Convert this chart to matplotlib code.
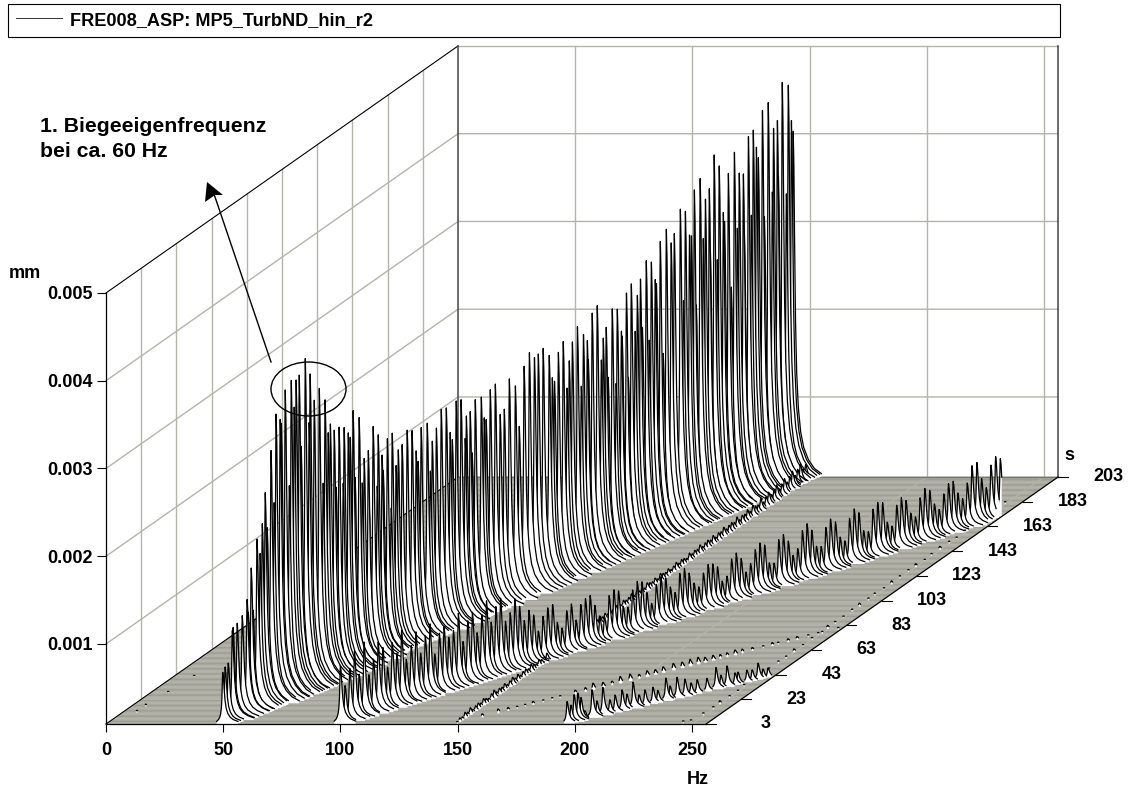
"""
Waterfall spectrum of the run-up, FRE008_ASP MP5 TurbND
"""
import matplotlib
matplotlib.use('Agg')
import matplotlib.pyplot as plt
from matplotlib.lines import Line2D
from matplotlib.patches import Ellipse
import numpy as np

# first order ridge, one entry per peak: time in s, frequency in Hz, height over floor in 0.001 mm
r1_time = [3.0, 3.7, 4.8, 6.2, 6.5, 7.9, 8.3, 9.7, 11.4, 11.8,
           12.8, 13.5, 14.9, 16.0, 16.7, 17.7, 18.4, 19.8, 20.9, 21.6,
           23.0, 23.4, 24.8, 26.2, 26.9, 27.9, 28.6, 29.7, 30.4, 31.8,
           33.2, 33.5, 34.9, 36.7, 38.1, 38.8, 39.9, 40.6, 42.0, 42.7,
           43.7, 45.1, 45.5, 46.9, 47.6, 48.6, 49.3, 50.7, 51.8, 52.5,
           53.9, 54.2, 55.6, 57.1, 57.4, 58.8, 59.2, 60.6, 62.0, 62.3,
           63.7, 64.4, 65.8, 67.6, 69.3, 70.7, 71.4, 72.5, 74.6, 75.7,
           76.4, 77.8, 79.5, 81.3, 82.7, 83.4, 84.8, 86.5, 87.9, 88.3,
           89.7, 90.4, 91.5, 93.6, 94.6, 95.3, 96.7, 98.5, 100.2, 101.6,
           103.4, 105.5, 106.9, 108.6, 110.4, 112.2, 113.6, 115.3, 117.4, 118.5,
           119.2, 120.6, 122.3, 123.7, 124.4, 125.5, 127.3, 128.7, 129.4, 130.8,
           131.1, 132.5, 134.3, 135.7, 136.4, 137.4, 138.1, 139.5, 140.9, 141.3,
           142.7, 143.0, 144.5, 145.2, 146.2, 147.6, 148.3, 149.4, 150.1, 151.5,
           152.5, 153.2, 154.6, 155.0, 156.4, 157.4, 158.5, 160.2, 161.3, 163.4,
           164.5, 165.2, 166.6, 167.3, 168.3, 169.0, 170.4, 171.5, 172.2, 173.6,
           173.9, 175.3, 176.4, 177.1, 178.5, 178.9, 180.3, 181.3, 182.4, 183.4,
           184.1, 185.5, 185.9, 187.3, 188.3, 189.0, 190.1, 190.8, 192.2, 192.9,
           194.3, 195.7, 196.1, 197.5, 197.8, 199.2, 200.6, 201.3, 202.4, 203.0]
r1_hz = [49.8, 50.3, 50.8, 51.5, 51.6, 52.3, 52.4, 53.1, 53.9, 54.1,
         54.6, 54.9, 55.5, 56.0, 56.4, 56.9, 57.2, 57.8, 58.3, 58.6,
         59.3, 59.5, 60.1, 60.8, 61.1, 61.6, 61.9, 62.4, 62.7, 63.4,
         64.0, 64.2, 64.9, 65.7, 66.3, 66.6, 67.1, 67.5, 68.1, 68.4,
         68.9, 69.6, 69.7, 70.4, 70.7, 71.2, 71.5, 72.2, 72.7, 73.0,
         73.7, 73.8, 74.5, 75.1, 75.3, 75.9, 76.1, 76.8, 77.4, 77.6,
         78.2, 78.6, 79.2, 80.0, 80.8, 81.5, 81.8, 82.3, 83.3, 83.8,
         84.1, 84.8, 85.6, 86.4, 87.0, 87.4, 88.0, 88.8, 89.5, 89.7,
         90.3, 90.6, 91.1, 92.1, 92.6, 92.9, 93.6, 94.4, 95.2, 95.9,
         96.7, 97.7, 98.3, 99.1, 100.0, 100.8, 101.4, 102.2, 103.2, 103.7,
         104.1, 104.7, 105.5, 106.1, 106.5, 107.0, 107.8, 108.4, 108.8, 109.4,
         109.6, 110.2, 111.0, 111.7, 112.0, 112.5, 112.8, 113.5, 114.1, 114.3,
         115.0, 115.1, 115.8, 116.1, 116.6, 117.2, 117.6, 118.1, 118.4, 119.0,
         119.5, 119.9, 120.5, 120.7, 121.3, 121.8, 122.3, 123.1, 123.6, 124.6,
         125.1, 125.4, 126.1, 126.4, 126.9, 127.2, 127.8, 128.3, 128.7, 129.3,
         129.5, 130.1, 130.6, 130.9, 131.6, 131.8, 132.4, 132.9, 133.4, 133.9,
         134.2, 134.9, 135.0, 135.7, 136.2, 136.5, 137.0, 137.3, 138.0, 138.3,
         138.9, 139.6, 139.8, 140.4, 140.6, 141.2, 141.9, 142.2, 142.7, 143.0]
r1_amp = [0.59, 0.64, 0.67, 1.02, 1.05, 1.08, 0.68, 1.14, 1.30, 1.15,
          1.64, 1.15, 1.94, 1.76, 2.09, 2.43, 2.02, 2.88, 2.27, 3.27,
          3.19, 3.14, 3.50, 2.39, 3.58, 3.26, 3.56, 3.60, 2.78, 3.76,
          3.01, 3.56, 3.24, 3.35, 2.25, 3.19, 2.80, 2.89, 2.80, 2.14,
          2.81, 2.15, 2.78, 2.70, 2.64, 2.93, 2.16, 2.82, 2.06, 2.33,
          2.40, 1.80, 2.65, 1.95, 2.53, 2.28, 2.10, 2.44, 1.63, 2.48,
          2.09, 2.26, 2.30, 2.44, 2.41, 2.16, 2.03, 2.40, 2.42, 1.86,
          2.19, 2.32, 2.51, 2.50, 2.20, 2.11, 2.53, 2.52, 2.06, 2.31,
          2.34, 1.86, 2.45, 2.45, 2.20, 2.17, 2.49, 2.53, 2.16, 2.20,
          2.52, 2.41, 1.93, 2.59, 2.72, 2.64, 2.66, 2.70, 2.59, 2.32,
          2.27, 2.58, 2.68, 2.13, 2.43, 2.63, 2.78, 2.08, 2.66, 2.57,
          2.35, 2.86, 2.92, 2.28, 2.52, 2.63, 2.05, 2.81, 1.94, 2.78,
          2.51, 2.45, 2.92, 1.95, 3.00, 2.44, 2.84, 3.01, 2.45, 3.19,
          2.27, 3.15, 2.93, 2.88, 3.34, 2.05, 3.45, 3.27, 3.36, 3.61,
          2.55, 3.56, 3.27, 3.25, 3.76, 2.44, 3.86, 3.16, 3.60, 3.70,
          3.00, 4.06, 2.85, 3.91, 3.36, 3.25, 3.78, 2.47, 3.99, 3.11,
          3.73, 3.70, 3.03, 4.10, 3.19, 4.15, 3.94, 3.81, 4.33, 3.11,
          4.39, 3.35, 4.07, 4.14, 3.50, 4.55, 3.26, 4.49, 4.07, 3.94]

# second order ridge, leaves the frequency range near 172 s
r2_time = [3.0, 4.2, 5.4, 6.6, 7.8, 9.0, 10.2, 11.4, 12.6, 13.8,
           15.0, 16.2, 17.4, 18.6, 19.8, 21.0, 22.2, 23.4, 24.6, 25.8,
           27.0, 28.2, 29.4, 30.6, 31.8, 33.0, 34.2, 35.4, 36.6, 37.8,
           39.0, 40.2, 41.4, 42.6, 43.8, 45.0, 46.2, 47.4, 48.6, 49.8,
           51.0, 52.2, 53.4, 54.6, 55.8, 57.0, 58.2, 59.4, 60.6, 61.8,
           63.0, 64.2, 65.4, 66.6, 67.8, 69.0, 70.2, 71.4, 72.6, 73.8,
           75.0, 76.2, 77.4, 78.6, 79.8, 81.0, 82.2, 83.4, 84.6, 85.8,
           87.0, 88.2, 89.4, 90.6, 91.8, 93.0, 94.2, 95.4, 96.6, 97.8,
           99.0, 100.2, 101.4, 102.6, 103.8, 105.0, 106.2, 107.4, 108.6, 109.8,
           111.0, 112.2, 113.4, 114.6, 115.8, 117.0, 118.2, 119.4, 120.6, 121.8,
           123.0, 124.2, 125.4, 126.6, 127.8, 129.0, 130.2, 131.4, 132.6, 133.8,
           135.0, 136.2, 137.4, 138.6, 139.8, 141.0, 142.2, 143.4, 144.6, 145.8,
           147.0, 148.2, 149.4, 150.6, 151.8, 153.0, 154.2, 155.4, 156.6, 157.8,
           159.0, 160.2, 161.4, 162.6, 163.8, 165.0, 166.2, 167.4, 168.6, 169.8,
           171.0]
r2_hz = [100.0, 101.1, 102.2, 103.3, 104.4, 105.6, 106.7, 107.8, 108.9, 110.0,
         111.1, 112.2, 113.3, 114.4, 115.5, 116.7, 117.8, 118.9, 120.0, 121.1,
         122.2, 123.3, 124.4, 125.5, 126.6, 127.8, 128.9, 130.0, 131.1, 132.2,
         133.3, 134.4, 135.5, 136.6, 137.7, 138.9, 140.0, 141.1, 142.2, 143.3,
         144.4, 145.5, 146.6, 147.7, 148.8, 150.0, 151.1, 152.2, 153.3, 154.4,
         155.5, 156.6, 157.7, 158.8, 159.9, 161.1, 162.2, 163.3, 164.4, 165.5,
         166.6, 167.7, 168.8, 169.9, 171.0, 172.2, 173.3, 174.4, 175.5, 176.6,
         177.7, 178.8, 179.9, 181.0, 182.1, 183.3, 184.4, 185.5, 186.6, 187.7,
         188.8, 189.9, 191.0, 192.1, 193.2, 194.4, 195.5, 196.6, 197.7, 198.8,
         199.9, 201.0, 202.1, 203.2, 204.3, 205.5, 206.6, 207.7, 208.8, 209.9,
         211.0, 212.1, 213.2, 214.3, 215.4, 216.6, 217.7, 218.8, 219.9, 221.0,
         222.1, 223.2, 224.3, 225.4, 226.5, 227.7, 228.8, 229.9, 231.0, 232.1,
         233.2, 234.3, 235.4, 236.5, 237.6, 238.8, 239.9, 241.0, 242.1, 243.2,
         244.3, 245.4, 246.5, 247.6, 248.7, 249.9, 251.0, 252.1, 253.2, 254.3,
         255.4]
r2_amp = [0.67, 0.42, 0.60, 0.78, 0.50, 0.85, 0.46, 0.62, 0.80, 0.72,
          0.48, 0.74, 0.60, 0.85, 0.50, 0.64, 0.78, 0.52, 0.70, 0.82,
          0.46, 0.68, 0.74, 0.60, 0.66, 0.84, 0.50, 0.72, 0.80, 0.55,
          0.74, 0.88, 0.62, 0.78, 0.86, 0.58, 0.66, 0.80, 0.70, 0.52,
          0.62, 0.55, 0.35, 0.50, 0.58, 0.60, 0.38, 0.30, 0.48, 0.54,
          0.34, 0.50, 0.55, 0.57, 0.44, 0.30, 0.28, 0.50, 0.55, 0.52,
          0.33, 0.30, 0.48, 0.56, 0.54, 0.40, 0.26, 0.46, 0.53, 0.50,
          0.38, 0.30, 0.50, 0.54, 0.47, 0.34, 0.28, 0.42, 0.50, 0.49,
          0.44, 0.26, 0.30, 0.48, 0.53, 0.45, 0.28, 0.36, 0.50, 0.56,
          0.52, 0.30, 0.28, 0.53, 0.57, 0.48, 0.30, 0.36, 0.55, 0.61,
          0.52, 0.32, 0.30, 0.50, 0.58, 0.53, 0.34, 0.28, 0.52, 0.61,
          0.55, 0.33, 0.30, 0.54, 0.60, 0.58, 0.34, 0.28, 0.50, 0.57,
          0.52, 0.36, 0.30, 0.50, 0.59, 0.55, 0.38, 0.30, 0.46, 0.56,
          0.57, 0.42, 0.34, 0.50, 0.68, 0.70, 0.50, 0.38, 0.62, 0.70,
          0.66]

# fourth order ridge
r4_time = [3.4, 4.1, 4.7, 5.4, 6.0, 6.7, 8.0, 8.9, 10.0, 11.3,
           12.3, 13.6, 14.5, 15.6, 16.7, 17.8, 19.3, 20.2, 21.7, 22.5,
           23.8, 25.2, 26.4, 27.5, 29.3, 31.0, 31.9, 33.0, 34.5, 35.1,
           36.7, 37.7, 38.8, 39.7, 40.6]
r4_hz = [196.4, 197.5, 198.4, 199.5, 200.4, 201.5, 203.6, 205.0, 206.7, 208.7,
         210.2, 212.2, 213.6, 215.4, 217.1, 218.8, 221.1, 222.5, 224.8, 226.0,
         228.0, 230.3, 232.0, 233.8, 236.6, 239.2, 240.6, 242.4, 244.7, 245.5,
         248.1, 249.6, 251.3, 252.7, 254.2]
r4_amp = [0.25, 0.20, 0.31, 0.32, 0.26, 0.10, 0.32, 0.18, 0.32, 0.16,
          0.20, 0.24, 0.18, 0.30, 0.14, 0.18, 0.19, 0.14, 0.26, 0.16,
          0.24, 0.20, 0.14, 0.16, 0.15, 0.25, 0.15, 0.24, 0.14, 0.14,
          0.14, 0.13, 0.19, 0.11, 0.11]

# third order ridge, only small specks
r3_time = [8.4, 11.6, 13.5, 15.3, 16.9, 18.5, 20.5, 22.3, 23.9, 26.9,
           28.9, 30.4, 32.4, 34.2, 35.8, 37.8, 39.6, 41.2, 42.8, 44.4,
           46.4, 48.2, 49.7, 51.3, 52.7, 54.3, 55.7, 57.1, 58.7, 60.1,
           62.1, 64.3, 66.1, 67.2, 69.2, 71.0, 73.2, 76.0, 79.2]
r3_hz = [156.4, 160.8, 163.6, 166.1, 168.3, 170.5, 173.3, 175.8, 178.0, 182.2,
         185.0, 187.2, 189.9, 192.4, 194.7, 197.4, 199.9, 202.1, 204.4, 206.6,
         209.4, 211.8, 214.1, 216.3, 218.2, 220.4, 222.4, 224.3, 226.5, 228.5,
         231.3, 234.3, 236.8, 238.5, 241.2, 243.7, 246.8, 250.7, 255.1]
r3_amp = [0.04, 0.05, 0.04, 0.03, 0.03, 0.04, 0.03, 0.03, 0.03, 0.05,
          0.05, 0.08, 0.06, 0.05, 0.08, 0.08, 0.05, 0.07, 0.06, 0.07,
          0.08, 0.07, 0.08, 0.08, 0.06, 0.06, 0.05, 0.05, 0.06, 0.05,
          0.04, 0.03, 0.04, 0.03, 0.04, 0.04, 0.03, 0.03, 0.03]

# constant line at 150 Hz, one value every 1.5 s from 3 s on
line150_hz = 149.8
line150_amp = [0.03, 0.05, 0.04, 0.07, 0.05, 0.08, 0.04, 0.06, 0.07, 0.05,
               0.08, 0.06, 0.04, 0.07, 0.09, 0.05, 0.07, 0.06, 0.08, 0.05,
               0.07, 0.09, 0.06, 0.08, 0.05, 0.07, 0.08, 0.06, 0.09, 0.07,
               0.05, 0.08, 0.06, 0.07, 0.09, 0.05, 0.07, 0.08, 0.06, 0.05,
               0.07, 0.08, 0.06, 0.05, 0.08, 0.06, 0.07, 0.09, 0.05, 0.07,
               0.06, 0.08, 0.05, 0.07, 0.09, 0.06, 0.08, 0.05, 0.07, 0.06,
               0.09, 0.07, 0.05, 0.08, 0.06, 0.07, 0.09, 0.05, 0.08, 0.06,
               0.07, 0.05, 0.09, 0.07, 0.06, 0.08, 0.05, 0.09, 0.07, 0.06,
               0.08, 0.05, 0.07, 0.09, 0.06, 0.08, 0.07, 0.05, 0.09, 0.06,
               0.08, 0.07, 0.10, 0.06, 0.08, 0.09, 0.07, 0.10, 0.06, 0.09,
               0.08, 0.11, 0.07, 0.09, 0.10, 0.08, 0.12, 0.07, 0.10, 0.09,
               0.12, 0.08, 0.13, 0.10, 0.09, 0.14, 0.08, 0.12, 0.15, 0.10,
               0.13, 0.17, 0.10, 0.14, 0.18, 0.12, 0.16, 0.20, 0.13, 0.18,
               0.22, 0.14, 0.17, 0.12]

# sparse specks near 250 Hz
line250_time = [3.5, 5.0, 10.0, 15.0, 19.0, 24.0, 29.0, 33.0, 38.0, 43.0,
                47.0, 52.0, 56.0, 61.0, 66.0, 71.0, 75.0, 80.0, 84.0, 89.0,
                94.0, 98.0, 103.0, 107.0, 112.0, 116.0, 121.0, 126.0, 130.0, 135.0,
                139.0, 144.0, 149.0, 153.0, 158.0, 163.0, 167.0, 172.0, 177.0, 181.0]
line250_hz = [245.8, 248.0, 249.5, 250.0, 249.8, 250.2, 250.0, 249.6, 250.1, 250.0,
              249.8, 250.0, 250.3, 249.9, 250.0, 250.1, 249.7, 250.0, 250.2, 250.0,
              249.9, 250.0, 250.1, 249.8, 250.0, 250.2, 250.0, 249.9, 250.0, 250.1,
              250.0, 249.8, 250.0, 250.2, 250.0, 249.9, 250.0, 250.1, 250.0, 249.9]
line250_amp = [0.03, 0.02, 0.03, 0.03, 0.04, 0.03, 0.02, 0.03, 0.04, 0.03,
               0.02, 0.03, 0.03, 0.04, 0.02, 0.03, 0.03, 0.04, 0.03, 0.02,
               0.03, 0.04, 0.03, 0.03, 0.02, 0.04, 0.03, 0.03, 0.04, 0.02,
               0.03, 0.04, 0.03, 0.02, 0.03, 0.03, 0.04, 0.03, 0.02, 0.03]

# specks close to 0 Hz
low_time = [12.0, 17.0, 28.0, 41.0]
low_hz = [6.4, 6.4, 7.7, 9.0]
low_amp = [0.03, 0.03, 0.02, 0.02]

# peak shape read from the skirts: distance from the peak in Hz, fraction of peak height
skirt_hz = [0, 0.3, 0.6, 1.0, 1.5, 2.2, 3.2, 4.5, 6.5, 9.0, 12.0]
skirt_frac = [1, 0.90, 0.68, 0.45, 0.30, 0.20, 0.13, 0.085, 0.05, 0.025, 0.01]

hz_ticks = [0, 50, 100, 150, 200, 250]
mm_ticks = [0.001, 0.002, 0.003, 0.004, 0.005]
s_ticks = [3, 23, 43, 63, 83, 103, 123, 143, 163, 183, 203]

assert len(r1_time) == len(r1_hz) == len(r1_amp)
assert len(r2_time) == len(r2_hz) == len(r2_amp)
assert len(r3_time) == len(r3_hz) == len(r3_amp)
assert len(r4_time) == len(r4_hz) == len(r4_amp)

# plot geometry
PX_PER_HZ = 2.344
PX_PER_MM = 87750.0
HZ_MAX = 256.0
FLOOR = 0.000088
TOP = 0.005
SHIFT_HZ = 1.76 / PX_PER_HZ      # oblique shift per second
SHIFT_MM = 1.235 / PX_PER_MM
TAIL_CUT = 0.025                 # skirts end at this height, 0.001 mm
LEFT_SKIRT = 0.4                 # skirts are narrower on the low frequency side

GRID = '#b4b4aa'
FLOOR_BG = '#d4d4ca'
FLOOR_ROW = '#97978d'
BOLD = dict(fontsize=13, fontweight='bold')

plt.rcParams['font.family'] = ['Liberation Sans', 'DejaVu Sans']


def hz_of(px):
    return (px - 106) / PX_PER_HZ


def mm_of(py):
    return FLOOR + (724 - py) / PX_PER_MM


def project(hz, t, mm):
    hz, t, mm = np.broadcast_arrays(hz, t, mm)
    return hz + (t - 3) * SHIFT_HZ, mm + (t - 3) * SHIFT_MM


fig = plt.figure(figsize=(11.29, 7.87), dpi=100)
ax = fig.add_axes([0, 0, 1, 1])
ax.set_xlim(hz_of(0), hz_of(1129))
ax.set_ylim(mm_of(787), mm_of(0))
ax.patch.set_alpha(0)

# floor, the rows are not snapped so that they beat against the pixel grid
fx, fy = project(np.array([0, HZ_MAX, HZ_MAX, 0]), np.array([3, 3, 203, 203]), FLOOR)
ax.fill(fx, fy, color=FLOOR_BG, lw=0, zorder=1)
for t in np.arange(3, 203.5, 1):
    x, y = project(np.array([0, HZ_MAX]), t, FLOOR)
    ax.plot(x, y, color=FLOOR_ROW, lw=0.62, zorder=1.1, snap=False, solid_capstyle='butt')

# grid on floor and walls
for hz in hz_ticks[1:]:
    x, y = project(np.array([hz, hz]), np.array([3, 203]), FLOOR)
    ax.plot(x, y, color=GRID, lw=0.9, zorder=1.2)
    x, y = project(np.array([hz, hz]), 203, np.array([FLOOR, TOP]))
    ax.plot(x, y, color=GRID, lw=1.0, zorder=1.2)
for t in s_ticks[1:-1]:
    x, y = project(np.array([0, HZ_MAX]), t, FLOOR)
    ax.plot(x, y, color=GRID, lw=0.9, zorder=1.2)
    x, y = project(np.array([0, 0]), t, np.array([FLOOR, TOP]))
    ax.plot(x, y, color=GRID, lw=1.0, zorder=1.2)
for mm in mm_ticks[:-1]:
    x, y = project(np.array([0, 0, HZ_MAX]), np.array([3, 203, 203]), mm)
    ax.plot(x, y, color=GRID, lw=1.0, zorder=1.2)
x, y = project(np.array([0, HZ_MAX]), 203, TOP)
ax.plot(x, y, color=GRID, lw=1.0, zorder=1.2)

# frame of the box
x, y = project(np.array([0, 0]), np.array([3, 203]), TOP)
ax.plot(x, y, color='black', lw=0.8, zorder=1.3)
x, y = project(np.array([0, 0]), 203, np.array([FLOOR, TOP]))
ax.plot(x, y, color='#444444', lw=1.1, zorder=1.3)
x, y = project(np.array([HZ_MAX, HZ_MAX]), 203, np.array([FLOOR, TOP]))
ax.plot(x, y, color='#444444', lw=1.1, zorder=1.3)
x, y = project(np.array([0, 0]), np.array([3, 203]), FLOOR)
ax.plot(x, y, color='black', lw=0.8, zorder=1.3)
x, y = project(np.array([0, HZ_MAX]), 203, FLOOR)
ax.plot(x, y, color='#77776f', lw=1.0, zorder=1.3)
x, y = project(np.array([HZ_MAX, HZ_MAX]), np.array([3, 203]), FLOOR)
ax.plot(x, y, color='black', lw=0.9, zorder=8000)

# all peaks, from the back to the front so that near ones hide far ones
line150_time = list(np.arange(3, 203, 1.5))
peaks = []
for times, hzs, amps in [(r1_time, r1_hz, r1_amp), (r2_time, r2_hz, r2_amp),
                         (r3_time, r3_hz, r3_amp), (r4_time, r4_hz, r4_amp),
                         (line150_time, [line150_hz] * len(line150_amp), line150_amp),
                         (line250_time, line250_hz, line250_amp),
                         (low_time, low_hz, low_amp)]:
    peaks.extend(zip(times, hzs, amps))
peaks.sort(key=lambda p: -p[0])

offs = np.array(skirt_hz, dtype=float)
fracs = np.array(skirt_frac, dtype=float)
for k, (t, hz, amp) in enumerate(peaks):
    keep = amp * fracs >= TAIL_CUT
    keep[:2] = True
    off = offs[keep]
    hgt = amp * fracs[keep]
    f = np.concatenate([hz - LEFT_SKIRT * off[::-1], hz + off[1:]])
    h = np.concatenate([hgt[::-1], hgt[1:]])
    inside = (f >= 0) & (f <= HZ_MAX)
    f = f[inside]
    h = h[inside]
    x, y = project(f, t, FLOOR + h * 0.001)
    base_x, base_y = project(f, t, FLOOR)
    z = 2 + k * 0.01
    ax.fill(np.r_[x, base_x[::-1]], np.r_[y, base_y[::-1]], color='white', lw=0, zorder=z)
    ax.plot(x, y, color='black', lw=0.9, zorder=z + 0.005)

# axes, real ticks at the front plane
for side in ['top', 'right']:
    ax.spines[side].set_visible(False)
ax.spines['left'].set_position(('data', 0))
ax.spines['left'].set_bounds(FLOOR, TOP)
ax.spines['bottom'].set_position(('data', FLOOR))
ax.spines['bottom'].set_bounds(0, HZ_MAX)
for side in ['left', 'bottom']:
    ax.spines[side].set_linewidth(0.9)
    ax.spines[side].set_zorder(8000)
ax.set_xticks(hz_ticks)
ax.set_yticks(mm_ticks)
ax.set_yticklabels(['%.3f' % v for v in mm_ticks], **BOLD)
ax.set_xticklabels([str(v) for v in hz_ticks], **BOLD)
ax.tick_params(axis='x', length=6, width=0.8, pad=7, direction='out')
ax.tick_params(axis='y', length=6.5, width=0.8, pad=3, direction='out')

# time axis along the right floor edge
for t in s_ticks:
    x, y = project(HZ_MAX, t, FLOOR)
    ax.plot([x, x + 9.5 / PX_PER_HZ], [y, y], color='black', lw=0.8, zorder=8000)
    ax.text(x + 65 / PX_PER_HZ, y, str(t), ha='right', va='center', **BOLD)

ax.text(hz_of(1069), mm_of(456), 's', ha='center', va='center', **BOLD)
ax.text(hz_of(698), mm_of(779), 'Hz', ha='center', va='center', **BOLD)
ax.text(hz_of(25), mm_of(274), 'mm', ha='center', va='center', **BOLD)

# annotation
ax.text(hz_of(40), mm_of(139), '1. Biegeeigenfrequenz\nbei ca. 60 Hz', ha='left', va='center',
        linespacing=1.39, zorder=9000, fontsize=15.3, fontweight='bold')
ax.plot([hz_of(271), hz_of(214)], [mm_of(362), mm_of(194)], color='black', lw=1.0, zorder=9000)
ax.fill([hz_of(207), hz_of(223), hz_of(215), hz_of(205)],
        [mm_of(182), mm_of(195), mm_of(195), mm_of(202)], color='black', lw=0, zorder=9000)
ax.add_patch(Ellipse((hz_of(308.5), mm_of(389)), 75 / PX_PER_HZ, 54 / PX_PER_MM, fill=False,
                     edgecolor='black', lw=1.0, zorder=9000))

# legend box across the top
handle = Line2D([], [], color='#333333', lw=0.7)
leg = ax.legend([handle], ['FRE008_ASP: MP5_TurbND_hin_r2'], loc='lower left',
                bbox_to_anchor=(8 / 1129, 1 - 37 / 787, 1052 / 1129, 30 / 787), mode='expand',
                borderaxespad=0, fancybox=False, framealpha=1, edgecolor='black',
                handlelength=2.5, handletextpad=0.44, borderpad=0.45,
                prop={'size': 13.1, 'weight': 'bold'})
leg.get_frame().set_linewidth(0.8)
leg.set_zorder(9000)

fig.savefig('out.png', dpi=100)
